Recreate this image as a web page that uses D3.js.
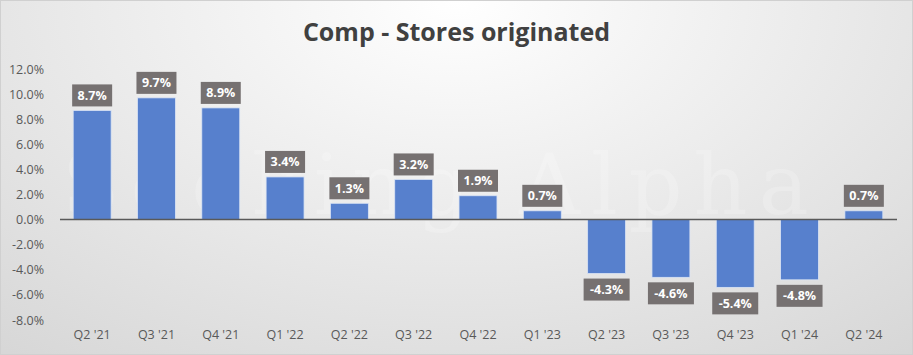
<!DOCTYPE html>
<html>
<head>
<meta charset="utf-8">
<script src="https://cdn.jsdelivr.net/npm/d3@7"></script>
<style>
  html, body { margin: 0; padding: 0; }
  body { width: 913px; height: 355px; overflow: hidden; }
</style>
</head>
<body>
<div id="chart"></div>
<script>
// data
const categories = ["Q2 '21", "Q3 '21", "Q4 '21", "Q1 '22", "Q2 '22", "Q3 '22", "Q4 '22",
  "Q1 '23", "Q2 '23", "Q3 '23", "Q4 '23", "Q1 '24", "Q2 '24"];
const values = [8.7, 9.7, 8.9, 3.4, 1.3, 3.2, 1.9, 0.7, -4.3, -4.6, -5.4, -4.8, 0.7];
const yTicks = [12, 10, 8, 6, 4, 2, 0, -2, -4, -6, -8];

const W = 913, H = 355;
const margin = { top: 69, right: 17, bottom: 35, left: 60 };

// plain hyphen for negatives, like the source
const fmt = d => d3.format('.1f')(d).replace('\u2212', '-') + '%';

const svg = d3.select('#chart')
  .append('svg')
  .attr('width', W)
  .attr('height', H);

// background
const defs = svg.append('defs');
const grad = defs.append('radialGradient')
  .attr('id', 'bg')
  .attr('cx', '50%').attr('cy', '0%')
  .attr('r', '95%')
  .attr('gradientTransform', 'translate(0.5,0) scale(1,1.6) translate(-0.5,0)');
grad.append('stop').attr('offset', '0%').attr('stop-color', '#ffffff');
grad.append('stop').attr('offset', '100%').attr('stop-color', '#cfcfcf');

svg.append('rect')
  .attr('x', 0.5).attr('y', 0.5)
  .attr('width', W - 1).attr('height', H - 1)
  .attr('fill', 'url(#bg)')
  .attr('stroke', '#d0d0d0');

// watermark
svg.append('text')
  .attr('x', 62).attr('y', 214)
  .attr('font-family', 'DejaVu Serif, serif')
  .attr('font-size', 84)
  .attr('letter-spacing', 11)
  .attr('fill', '#ffffff')
  .attr('fill-opacity', 0.2)
  .text('Seeking Alpha');

// title
svg.append('text')
  .attr('x', W / 2).attr('y', 41)
  .attr('text-anchor', 'middle')
  .attr('font-family', 'Open Sans, sans-serif')
  .attr('font-weight', 'bold')
  .attr('font-size', 25)
  .attr('fill', '#404040')
  .text('Comp - Stores originated');

const h = H - margin.top - margin.bottom;

const g = svg.append('g')
  .attr('transform', `translate(${margin.left}, ${margin.top})`);

// scales
const yScale = d3.scaleLinear()
  .domain([-8, 12])
  .range([251, 0]);

const xScale = d3.scaleBand()
  .domain(categories)
  .range([0, 836])
  .paddingInner(0.41)
  .paddingOuter(0.205);

// y axis
const yAxis = d3.axisLeft(yScale)
  .tickValues(yTicks)
  .tickSize(0)
  .tickPadding(16)
  .tickFormat(fmt);
g.append('g')
  .call(yAxis)
  .call(s => s.select('.domain').remove())
  .call(s => s.selectAll('text')
    .attr('font-family', 'Open Sans, sans-serif')
    .attr('font-size', 12.5)
    .attr('fill', '#595959'));

// bars
const data = categories.map((c, i) => ({ name: c, value: values[i] }));

g.selectAll('rect.bar')
  .data(data)
  .enter()
  .append('rect')
  .attr('class', 'bar')
  .attr('x', d => xScale(d.name))
  .attr('width', xScale.bandwidth())
  .attr('y', d => yScale(Math.max(0, d.value)))
  .attr('height', d => Math.abs(yScale(d.value) - yScale(0)))
  .attr('fill', '#5780cd')
  .attr('stroke', '#dbe4f4')
  .attr('stroke-width', 0.8);

// zero line
g.append('line')
  .attr('x1', 0).attr('x2', 837)
  .attr('y1', yScale(0)).attr('y2', yScale(0))
  .attr('stroke', '#595959')
  .attr('stroke-width', 1.5);

// x axis labels
const xAxis = d3.axisBottom(xScale).tickSize(0).tickPadding(0);
g.append('g')
  .attr('transform', `translate(0, ${h + 10})`)
  .call(xAxis)
  .call(s => s.select('.domain').remove())
  .call(s => s.selectAll('text')
    .attr('font-family', 'Open Sans, sans-serif')
    .attr('font-size', 12.5)
    .attr('fill', '#595959'));

// value labels
const boxW = 40, boxH = 22, gap = 4;
const lbl = g.selectAll('g.lbl')
  .data(data)
  .enter()
  .append('g')
  .attr('class', 'lbl')
  .attr('transform', d => {
    const cx = xScale(d.name) + xScale.bandwidth() / 2;
    const y = d.value >= 0 ? yScale(d.value) - gap - boxH : yScale(d.value) + gap + 1;
    return `translate(${cx}, ${y})`;
  });

lbl.append('rect')
  .attr('x', d => d.value < 0 ? -(boxW + 6) / 2 : -boxW / 2)
  .attr('width', d => d.value < 0 ? boxW + 6 : boxW)
  .attr('height', boxH)
  .attr('fill', '#767171');

lbl.append('text')
  .attr('y', boxH / 2)
  .attr('dy', '0.35em')
  .attr('text-anchor', 'middle')
  .attr('font-family', 'Open Sans, sans-serif')
  .attr('font-weight', 'bold')
  .attr('font-size', 12.5)
  .attr('fill', '#ffffff')
  .text(d => fmt(d.value));
</script>
</body>
</html>
